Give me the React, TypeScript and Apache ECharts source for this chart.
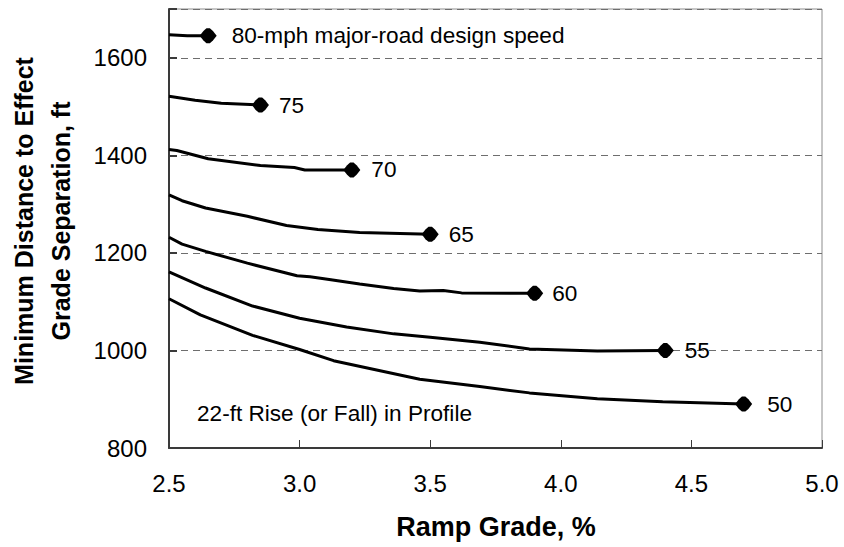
import React, { useEffect, useRef } from "react";
import * as echarts from "echarts";

// ---- data ----
const speeds = ["80", "75", "70", "65", "60", "55", "50"];
const endLabels = ["80-mph major-road design speed", "75", "70", "65", "60", "55", "50"];

const grade80 = [2.5, 2.57, 2.65];
const dist80 = [1647, 1645, 1645];
const grade75 = [2.5, 2.6, 2.7, 2.85];
const dist75 = [1521, 1513, 1507, 1503];
const grade70 = [2.5, 2.53, 2.65, 2.85, 2.98, 3.02, 3.2];
const dist70 = [1412, 1410, 1393, 1379, 1375, 1370, 1370];
const grade65 = [2.5, 2.55, 2.64, 2.8, 2.95, 3.07, 3.23, 3.5];
const dist65 = [1319, 1307, 1292, 1275, 1256, 1248, 1242, 1238];
const grade60 = [2.5, 2.55, 2.64, 2.8, 2.99, 3.04, 3.12, 3.23, 3.36, 3.46, 3.55, 3.62, 3.9];
const dist60 = [1232, 1218, 1203, 1179, 1153, 1151, 1145, 1136, 1127, 1122, 1123, 1118, 1117];
const grade55 = [2.5, 2.64, 2.82, 3.0, 3.18, 3.36, 3.5, 3.69, 3.88, 4.14, 4.4];
const dist55 = [1161, 1128, 1091, 1066, 1048, 1034, 1027, 1017, 1003, 999, 1000];
const grade50 = [2.5, 2.62, 2.82, 3.0, 3.13, 3.46, 3.69, 3.88, 4.14, 4.39, 4.7];
const dist50 = [1106, 1073, 1031, 1002, 979, 941, 926, 913, 901, 895, 890];

const xTicks = [2.5, 3.0, 3.5, 4.0, 4.5, 5.0];
const yTicks = [800, 1000, 1200, 1400, 1600];

const xTitle = "Ramp Grade, %";
const yTitle = ["Minimum Distance to Effect", "Grade Separation, ft"];
const note = "22-ft Rise (or Fall) in Profile";

// style only: gap between end marker and its label
const labelGaps = [15, 10, 11, 10, 9, 11, 15];

const grades = [grade80, grade75, grade70, grade65, grade60, grade55, grade50];
const dists = [dist80, dist75, dist70, dist65, dist60, dist55, dist50];

const FONT = "Liberation Sans, Arial, sans-serif";
const MARKER =
  "path://M0 5 L2.2 2 L4 0.3 L6 0.3 L7.8 2 L10 5 L7.8 8 L6 9.7 L4 9.7 L2.2 8 Z";

export default function App() {
  const ref = useRef<HTMLDivElement>(null);

  useEffect(() => {
    document.body.style.margin = "0";
    if (!ref.current) return;
    const chart = echarts.init(ref.current, undefined, { renderer: "svg" });

    const lineSeries = speeds.map((s, i) => ({
      type: "line",
      name: s + " mph",
      data: grades[i].map((g, j) => [g, dists[i][j]]),
      showSymbol: false,
      symbol: "none",
      lineStyle: { color: "#000", width: 3 },
      z: 3,
    }));

    const markerSeries = {
      type: "scatter",
      name: "ends",
      symbol: MARKER,
      symbolSize: [17, 15],
      itemStyle: { color: "#000", opacity: 1 },
      z: 4,
      data: speeds.map((s, i) => {
        const n = grades[i].length - 1;
        return {
          value: [grades[i][n], dists[i][n]],
          label: {
            show: true,
            position: "right",
            distance: labelGaps[i],
            formatter: endLabels[i],
            color: "#000",
            fontFamily: FONT,
            fontSize: 22.6,
          },
        };
      }),
    };

    chart.setOption({
      animation: false,
      backgroundColor: "#fff",
      grid: {
        left: 169,
        right: 22,
        top: 9,
        bottom: 99,
        show: true,
        borderColor: "#8c8c8c",
        borderWidth: 1,
        backgroundColor: "transparent",
      },
      xAxis: {
        type: "value",
        min: xTicks[0],
        max: xTicks[xTicks.length - 1],
        interval: 0.5,
        axisLine: { show: true, onZero: false, lineStyle: { color: "#3a3a3a", width: 2 } },
        axisTick: { show: true, inside: true, length: 8, lineStyle: { color: "#3a3a3a", width: 1 } },
        axisLabel: {
          margin: 23,
          color: "#000",
          fontFamily: FONT,
          fontSize: 24,
          formatter: (v: number) => v.toFixed(1),
        },
        splitLine: { show: false },
      },
      yAxis: {
        type: "value",
        min: yTicks[0],
        max: 1700,
        interval: 200,
        axisLine: { show: true, onZero: false, lineStyle: { color: "#3a3a3a", width: 2 } },
        axisTick: { show: true, inside: true, length: 8, lineStyle: { color: "#3a3a3a", width: 2 } },
        axisLabel: {
          margin: 22,
          color: "#000",
          fontFamily: FONT,
          fontSize: 24,
          formatter: (v: number) => (yTicks.indexOf(v) >= 0 ? String(v) : ""),
        },
        splitLine: {
          show: true,
          lineStyle: { color: "#6e6e6e", width: 1, type: [7, 5] },
        },
      },
      graphic: [
        {
          type: "text",
          x: 496,
          y: 527,
          style: {
            text: xTitle,
            font: `bold 27px ${FONT}`,
            fill: "#000",
            align: "center",
            verticalAlign: "middle",
          },
        },
        {
          type: "text",
          x: 42,
          y: 221,
          rotation: Math.PI / 2,
          style: {
            text: yTitle.join("\n"),
            font: `bold 25px ${FONT}`,
            lineHeight: 37,
            fill: "#000",
            align: "center",
            verticalAlign: "middle",
          },
        },
        {
          type: "text",
          x: 197,
          y: 413,
          style: {
            text: note,
            font: `22.6px ${FONT}`,
            fill: "#000",
            align: "left",
            verticalAlign: "middle",
          },
        },
      ],
      series: [...lineSeries, markerSeries],
    });

    return () => chart.dispose();
  }, []);

  return <div ref={ref} style={{ width: 844, height: 547 }} />;
}
